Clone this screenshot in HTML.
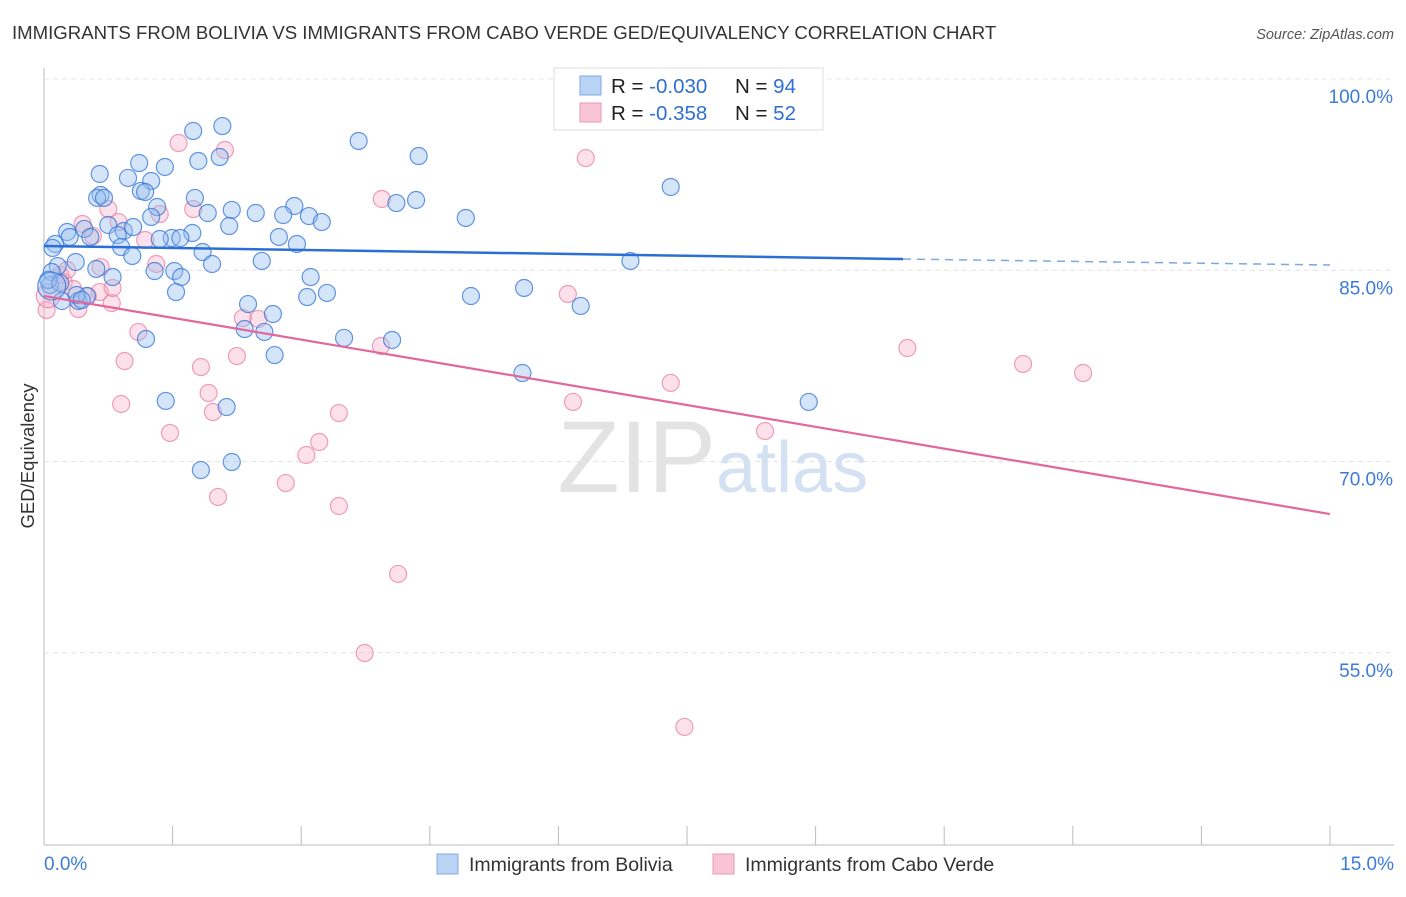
<!DOCTYPE html>
<html><head><meta charset="utf-8"><style>
body{margin:0;background:#fff;font-family:"Liberation Sans",sans-serif;}
svg text{font-family:"Liberation Sans",sans-serif;}
</style></head><body>
<svg id="chart" width="1406" height="892" xmlns="http://www.w3.org/2000/svg">
<text x="12" y="39" font-size="18.6" fill="#333">IMMIGRANTS FROM BOLIVIA VS IMMIGRANTS FROM CABO VERDE GED/EQUIVALENCY CORRELATION CHART</text>
<text x="1394" y="39" font-size="14.5" fill="#555" text-anchor="end" font-style="italic">Source: ZipAtlas.com</text>
<text x="34" y="456" font-size="18.5" fill="#333" text-anchor="middle" transform="rotate(-90 34 456)">GED/Equivalency</text>
<g id="grid"></g>
<text x="716" y="492" font-size="102" fill="#e3e3e3" text-anchor="end" font-family="Liberation Serif">ZIP</text>
<text x="716" y="492" font-size="72" fill="#d4e1f3">atlas</text>
<g id="points"></g>
<g id="lines"></g>
<g>
<rect x="554" y="68" width="269" height="62" fill="#fff" stroke="#ddd"/>
<rect x="580" y="76" width="21" height="19" fill="#b9d3f5" stroke="#7ea9e6"/>
<rect x="580" y="103" width="21" height="19" fill="#f8c3d4" stroke="#ec9ab6"/>
<text x="611" y="93" font-size="20.5" fill="#222">R = <tspan fill="#2f6fd0">-0.030</tspan><tspan x="735">N = </tspan><tspan fill="#2f6fd0">94</tspan></text>
<text x="611" y="120" font-size="20.5" fill="#222">R = <tspan fill="#2f6fd0"> -0.358</tspan><tspan x="735">N = </tspan><tspan fill="#2f6fd0">52</tspan></text>
</g>
<g>
<rect x="437" y="854" width="21" height="20" fill="#b9d3f5" stroke="#7ea9e6"/>
<text x="469" y="871" font-size="19.5" fill="#333">Immigrants from Bolivia</text>
<rect x="713" y="854" width="21" height="20" fill="#f8c3d4" stroke="#ec9ab6"/>
<text x="745" y="871" font-size="19.5" fill="#333">Immigrants from Cabo Verde</text>
</g>
</svg>
<script>
const xTicks=[0,1.5,3,4.5,6,7.5,9,10.5,12,13.5,15];
const yTicks=[100,85,70,55];
const yTickLabels=["100.0%","85.0%","70.0%","55.0%"];
const boliviaX=[1.74,2.08,3.67,4.37,7.31,1.80,2.05,1.11,1.41,0.65,0.98,1.25,1.13,1.18,0.66,0.62,1.76,0.70,1.32,2.19,2.47,2.92,2.79,1.91,3.09,3.24,4.92,4.11,4.34,1.25,0.75,0.27,0.47,0.93,1.04,0.86,1.73,0.30,0.54,1.49,1.35,1.59,2.16,2.74,2.95,0.13,0.10,0.90,1.03,1.85,1.96,2.54,6.84,0.37,0.16,0.61,1.29,1.52,1.60,0.80,3.11,0.09,0.07,0.21,0.40,0.50,0.38,1.54,3.07,3.30,4.98,5.60,6.26,2.38,2.67,2.34,2.57,1.19,3.50,4.06,2.69,5.58,8.92,1.42,2.13,1.83,2.19,6.56,0.05,0.44,0.19,0.09];
const boliviaY=[95.92,96.31,95.14,93.96,91.53,93.57,93.88,93.41,93.10,92.55,92.24,92.0,91.22,91.14,90.90,90.67,90.67,90.67,89.96,89.73,89.49,90.04,89.33,89.49,89.25,88.78,89.10,90.27,90.51,89.18,88.55,88.0,88.24,88.08,88.39,87.76,87.92,87.61,87.61,87.53,87.45,87.53,88.47,87.61,87.06,87.06,86.75,86.82,86.12,86.43,85.49,85.73,85.73,85.65,85.33,85.10,84.94,84.94,84.47,84.47,84.47,84.86,83.84,82.59,82.59,82.98,83.06,83.29,82.90,83.22,82.98,83.61,82.20,82.35,81.57,80.39,80.16,79.61,79.69,79.53,78.35,76.94,74.67,74.75,74.27,69.33,69.96,97.73,84.24,82.67,84.0,83.76];
const caboX=[0.03,0.40,0.19,0.23,0.34,0.65,0.51,0.79,0.66,0.27,0.45,0.57,0.75,0.87,1.18,1.35,1.74,1.57,2.11,3.94,6.32,1.10,0.94,1.83,2.25,2.32,2.50,3.93,6.11,10.07,11.42,12.12,7.31,6.17,8.41,1.92,1.97,0.90,1.47,3.44,3.21,3.06,2.82,2.03,3.44,4.13,3.74,7.47,1.31,0.80,0.05];
const caboY=[81.88,81.96,84.63,84.08,83.53,83.29,82.98,82.43,85.25,85.02,88.63,87.69,89.80,88.78,87.37,89.41,89.80,94.98,94.43,90.59,93.80,80.16,77.88,77.41,78.27,81.25,81.18,79.06,83.14,78.90,77.65,76.94,76.16,74.67,72.39,75.37,73.88,74.51,72.24,73.80,71.53,70.51,68.31,67.22,66.51,61.18,54.98,49.18,85.49,83.61,83.0];
const boliviaTrend=[[0,86.9],[10.02,85.88],[15,85.41]];
const caboTrend=[[0,82.98],[15,65.88]];
const NS="http://www.w3.org/2000/svg";
const X=v=>44+v*(1286/15);
const Y=v=>79+(100-v)*12.75;
function mk(tag,attrs,parent){const e=document.createElementNS(NS,tag);for(const k in attrs)e.setAttribute(k,attrs[k]);parent.appendChild(e);return e;}
const grid=document.getElementById('grid');
mk('line',{x1:44,y1:68,x2:44,y2:845,stroke:'#bbb'},grid);
mk('line',{x1:44,y1:845,x2:1394,y2:845,stroke:'#bbb'},grid);
yTicks.forEach((t,i)=>{
 const l=mk('line',{x1:44,y1:Y(t),x2:1394,y2:Y(t),stroke:'#e4e4e4','stroke-dasharray':'5,4'},grid);
 
 
 const tx=mk('text',{x:1393,y:Y(t)+24,'font-size':19,fill:'#3d7bd8','text-anchor':'end'},grid);
 tx.textContent=yTickLabels[i];
 
 
});
xTicks.forEach(t=>{
 const l=mk('line',{x1:X(t),y1:826,x2:X(t),y2:845,stroke:'#bbb'},grid);
 
 
});
const xl=mk('text',{x:44,y:870,'font-size':19,fill:'#3d7bd8'},grid);xl.textContent='0.0%';


const xr=mk('text',{x:1394,y:870,'font-size':19,fill:'#3d7bd8','text-anchor':'end'},grid);xr.textContent='15.0%';


const pts=document.getElementById('points');
caboX.forEach((x,i)=>{
 const c=mk('circle',{cx:X(x),cy:Y(caboY[i]),r:i==caboX.length-1?12:8.5,fill:'rgba(246,170,196,0.35)',stroke:'rgba(232,120,160,0.7)','stroke-width':1.2},pts);
 
 
});
boliviaX.forEach((x,i)=>{
 const c=mk('circle',{cx:X(x),cy:Y(boliviaY[i]),r:i==boliviaX.length-1?14:8.5,fill:'rgba(150,190,240,0.4)',stroke:'rgba(50,115,215,0.75)','stroke-width':1.2},pts);
 
 
});
const lg=document.getElementById('lines');
const b1=mk('line',{x1:X(boliviaTrend[0][0]),y1:Y(boliviaTrend[0][1]),x2:X(boliviaTrend[1][0]),y2:Y(boliviaTrend[1][1]),stroke:'#2b6fd6','stroke-width':2.5},lg);


const b2=mk('line',{x1:X(boliviaTrend[1][0]),y1:Y(boliviaTrend[1][1]),x2:X(boliviaTrend[2][0]),y2:Y(boliviaTrend[2][1]),stroke:'#7fa6e0','stroke-width':1.5,'stroke-dasharray':'8,6'},lg);


const p1=mk('line',{x1:X(caboTrend[0][0]),y1:Y(caboTrend[0][1]),x2:X(caboTrend[1][0]),y2:Y(caboTrend[1][1]),stroke:'#e2679a','stroke-width':2.2},lg);


</script>
</body></html>
